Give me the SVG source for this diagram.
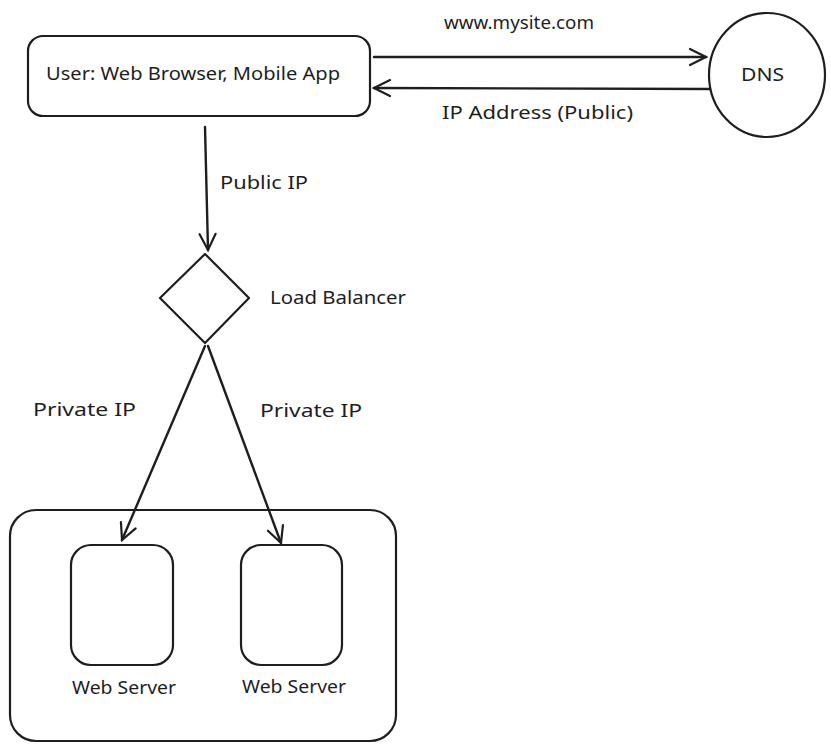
<svg xmlns="http://www.w3.org/2000/svg" width="831" height="750" viewBox="0 0 831 750">
<defs>
<style>
.s{fill:#fff;stroke:#1e1e1e;stroke-width:2.2;stroke-linejoin:round}
.c{fill:none;stroke:#1e1e1e;stroke-width:2.4;stroke-linecap:round}
.t{font-family:"Noto Sans","Liberation Sans",sans-serif;font-size:18px;fill:#1e1e1e}
.m{text-anchor:middle}
</style>
<marker id="ah" viewBox="0 0 20 20" refX="18" refY="10" markerWidth="20" markerHeight="20" markerUnits="userSpaceOnUse" orient="auto">
<path d="M2,2 L18,10 L2,18" fill="none" stroke="#1e1e1e" stroke-width="2.2" stroke-linecap="round"/>
</marker>
</defs>
<rect width="831" height="750" fill="#fff"/>
<g id="container"><rect class="s" x="10" y="510" width="386" height="231" rx="26"/></g>
<g id="user"><rect class="s" x="28" y="36" width="342" height="80" rx="15"/>
<text class="t" x="46" y="80" textLength="294" lengthAdjust="spacingAndGlyphs">User: Web Browser, Mobile App</text></g>
<g id="dns"><ellipse class="s" cx="767" cy="75" rx="58" ry="62"/>
<text class="t" x="741" y="81" textLength="43" lengthAdjust="spacingAndGlyphs">DNS</text></g>
<g id="lb"><path class="s" d="M205,254 L249,298 L205,343 L160,298 Z"/>
<text class="t" x="270" y="304" textLength="136" lengthAdjust="spacingAndGlyphs">Load Balancer</text></g>
<g id="server1"><rect class="s" x="71" y="545" width="102" height="120" rx="20"/>
<text class="t" x="72" y="694" textLength="104" lengthAdjust="spacingAndGlyphs">Web Server</text></g>
<g id="server2"><rect class="s" x="241" y="545" width="101" height="120" rx="20"/>
<text class="t" x="242" y="693" textLength="104" lengthAdjust="spacingAndGlyphs">Web Server</text></g>
<g id="connectors">
<path class="c" d="M374,57 L706,57" marker-end="url(#ah)"/>
<path class="c" d="M710,89 L374,88" marker-end="url(#ah)"/>
<path class="c" d="M205,127 L208,250" marker-end="url(#ah)"/>
<path class="c" d="M205,346 L122,540" marker-end="url(#ah)"/>
<path class="c" d="M208,346 L281,543" marker-end="url(#ah)"/>
<text class="t" x="444" y="29" textLength="150" lengthAdjust="spacingAndGlyphs">www.mysite.com</text>
<text class="t" x="442" y="119" textLength="191" lengthAdjust="spacingAndGlyphs">IP Address (Public)</text>
<text class="t" x="220" y="189" textLength="88" lengthAdjust="spacingAndGlyphs">Public IP</text>
<text class="t" x="33" y="416" textLength="103" lengthAdjust="spacingAndGlyphs">Private IP</text>
<text class="t" x="260" y="417" textLength="102" lengthAdjust="spacingAndGlyphs">Private IP</text>
</g>
</svg>
